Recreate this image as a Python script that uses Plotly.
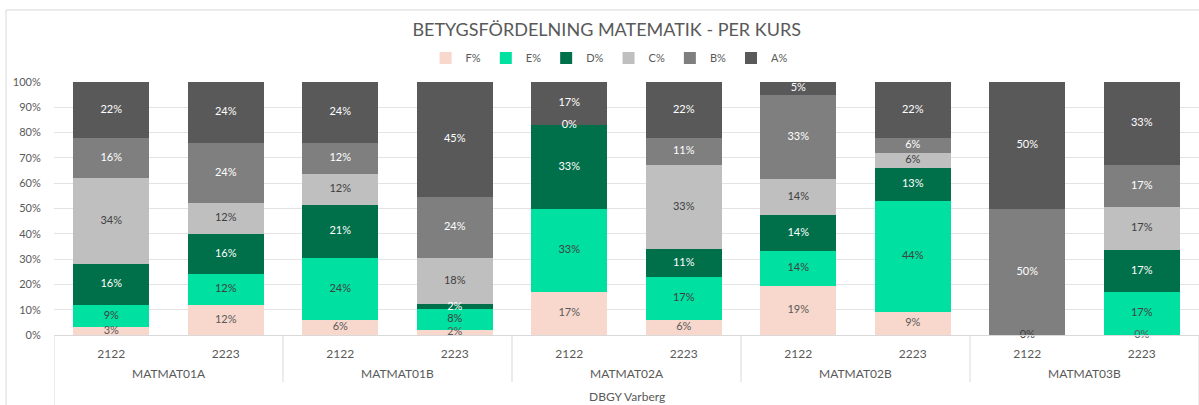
import plotly.graph_objects as go

courses = ["MATMAT01A", "MATMAT01B", "MATMAT02A", "MATMAT02B", "MATMAT03B"]
years = ["2122", "2223"]
group_label = "DBGY Varberg"
grades = ["F%", "E%", "D%", "C%", "B%", "A%"]

F = [3, 12, 6, 2, 17, 6, 19, 9, 0, 0]
E = [9, 12, 24, 8, 33, 17, 14, 44, 0, 17]
D = [16, 16, 21, 2, 33, 11, 14, 13, 0, 17]
C = [34, 12, 12, 18, 0, 33, 14, 6, 0, 17]
B = [16, 24, 12, 24, 0, 11, 33, 6, 50, 17]
A = [22, 24, 24, 45, 17, 22, 5, 22, 50, 33]
series = [F, E, D, C, B, A]

y_ticks = list(range(0, 101, 10))
y_tick_labels = [f"{v}%" for v in y_ticks]

colors = ["#F8D7CC", "#00E0A0", "#00704A", "#BFBFBF", "#7F7F7F", "#595959"]
text_colors = ["#595959", "#404040", "#FFFFFF", "#404040", "#FFFFFF", "#FFFFFF"]

keys = [f"{c} {y}" for c in courses for y in years]
tick_text = [y for c in courses for y in years]

FONT = "Lato"
fig = go.Figure()
for name, vals, col in zip(grades, series, colors):
    fig.add_trace(go.Bar(
        x=keys, y=vals, name=name, marker=dict(color=col, line=dict(width=0)),
        width=0.665,
    ))

# data labels at the centre of each (percent-normalised) stacked segment
totals = [sum(s[i] for s in series) for i in range(len(keys))]
for gi, (vals, tcol) in enumerate(zip(series, text_colors)):
    centres, labels = [], []
    for i, v in enumerate(vals):
        below = sum(series[k][i] for k in range(gi))
        centres.append((below + v / 2) / totals[i] * 100)
        # a zero label hidden under the next grade's zero label is not drawn twice
        hidden = v == 0 and gi + 1 < len(series) and series[gi + 1][i] == 0
        labels.append("" if hidden else f"{v}%")
    fig.add_trace(go.Scatter(
        x=keys, y=centres, mode="text", text=labels,
        textfont=dict(size=11, family=FONT, color=tcol),
        showlegend=False, hoverinfo="skip", cliponaxis=False,
    ))

shapes = []
line_col = "#D9D9D9"
# category dividers
for j in range(len(courses) + 1):
    xpos = j * 2 - 0.5
    outer = j == 0 or j == len(courses)
    shapes.append(dict(type="line", xref="x", yref="paper", x0=xpos, x1=xpos,
                       y0=0, y1=-0.29 if outer else -0.186,
                       line=dict(color=line_col, width=1)))
# outer chart frame
shapes.append(dict(type="rect", xref="paper", yref="paper", x0=-0.0419, x1=1.02,
                   y0=-0.4, y1=1.2846, line=dict(color=line_col, width=1),
                   fillcolor="rgba(0,0,0,0)", layer="below"))

annotations = []
for j, c in enumerate(courses):
    annotations.append(dict(x=j * 2 + 0.5, y=-0.154, xref="x", yref="paper",
                            text=c, showarrow=False, yanchor="middle",
                            font=dict(size=12, color="#595959", family=FONT)))
annotations.append(dict(x=0.5, y=-0.245, xref="paper", yref="paper",
                        text=group_label, showarrow=False, yanchor="middle",
                        font=dict(size=12, color="#595959", family=FONT)))

fig.update_layout(
    width=1199, height=405,
    margin=dict(l=54, r=0, t=82, b=70),
    barmode="stack", barnorm="percent",
    plot_bgcolor="white", paper_bgcolor="white",
    title=dict(text="BETYGSFÖRDELNING MATEMATIK - PER KURS", x=0.506, xanchor="center",
               y=0.926, yanchor="middle", xref="container", yref="container",
               font=dict(size=18, color="#595959", family=FONT)),
    legend=dict(orientation="h", x=0.508, xanchor="center", y=0.857, yanchor="middle",
                xref="container", yref="container",
                font=dict(size=11, color="#595959", family=FONT), itemwidth=30,
                traceorder="normal"),
    shapes=shapes, annotations=annotations,
    showlegend=True,
)
fig.update_xaxes(type="category", tickvals=keys, ticktext=tick_text,
                 range=[-0.5, len(keys) - 0.5],
                 showline=True, linecolor=line_col, linewidth=1,
                 ticks="outside", ticklen=8, tickcolor="rgba(0,0,0,0)",
                 tickfont=dict(size=12, color="#595959", family=FONT),
                 showgrid=False)
fig.update_yaxes(range=[0, 100], tickvals=y_ticks, ticktext=y_tick_labels,
                 showgrid=True, gridcolor="#E3E3E3", gridwidth=1, zeroline=False,
                 tickfont=dict(size=11, color="#595959", family=FONT),
                 ticks="outside", ticklen=10, tickcolor="rgba(0,0,0,0)")

fig.write_html("out.html", config={"displayModeBar": False},
               post_script="document.body.style.margin='0';document.body.style.overflow='hidden';")
